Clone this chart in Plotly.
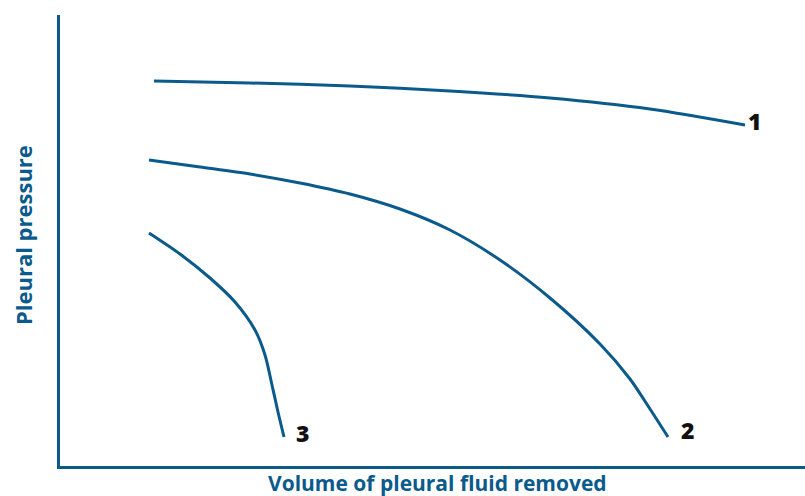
import plotly.graph_objects as go

# Data (arbitrary units: x = volume removed, y = pleural pressure)
curve1_x = [94, 190, 290, 390, 490, 590, 685]
curve1_y = [385, 383, 380, 375, 368, 357, 341]
curve2_x = [89, 140, 190, 240, 290, 340, 390, 440, 490, 540, 570, 590, 608]
curve2_y = [306, 299, 292, 283, 272, 257, 236, 206, 168, 122, 87, 57, 29]
curve3_x = [89, 120, 150, 175, 195, 205, 212, 218, 224]
curve3_y = [233, 212, 188, 164, 136, 111, 81, 54, 29]
labels = ["1", "2", "3"]
label_x = [688, 621, 236]
label_y = [342, 33, 30]

color = "#0b5a8c"
fig = go.Figure()
for xs, ys in [(curve1_x, curve1_y), (curve2_x, curve2_y), (curve3_x, curve3_y)]:
    fig.add_trace(go.Scatter(x=xs, y=ys, mode="lines",
                             line=dict(color=color, width=3, shape="spline", smoothing=0.8),
                             hoverinfo="skip", showlegend=False))
fig.add_trace(go.Scatter(x=label_x, y=label_y, mode="text", text=labels,
                         textposition="middle right",
                         textfont=dict(family="Open Sans", size=23, color="#111111", weight=800),
                         showlegend=False, hoverinfo="skip"))

fig.update_xaxes(range=[0, 745], showline=True, linecolor=color, linewidth=3,
                 showgrid=False, zeroline=False, showticklabels=False, ticks="")
fig.update_yaxes(range=[0, 451], showline=True, linecolor=color, linewidth=3,
                 showgrid=False, zeroline=False, showticklabels=False, ticks="")

fig.add_annotation(text="Volume of pleural fluid removed", xref="paper", yref="paper",
                   x=0.507, y=0, yshift=-2, xanchor="center", yanchor="top", showarrow=False,
                   borderpad=0,
                   font=dict(family="Open Sans", size=21, color=color, weight="bold"))
fig.add_annotation(text="Pleural pressure", xref="paper", yref="paper",
                   x=0, xshift=-37, y=0.512, xanchor="center", yanchor="middle", showarrow=False,
                   textangle=-90,
                   font=dict(family="Open Sans", size=22, color=color, weight="bold"))

fig.update_layout(width=805, height=496, margin=dict(l=60, r=0, t=15, b=30),
                  plot_bgcolor="white", paper_bgcolor="white")
fig.write_html("out.html", config={"displayModeBar": False},
               post_script="document.body.style.margin='0';")
